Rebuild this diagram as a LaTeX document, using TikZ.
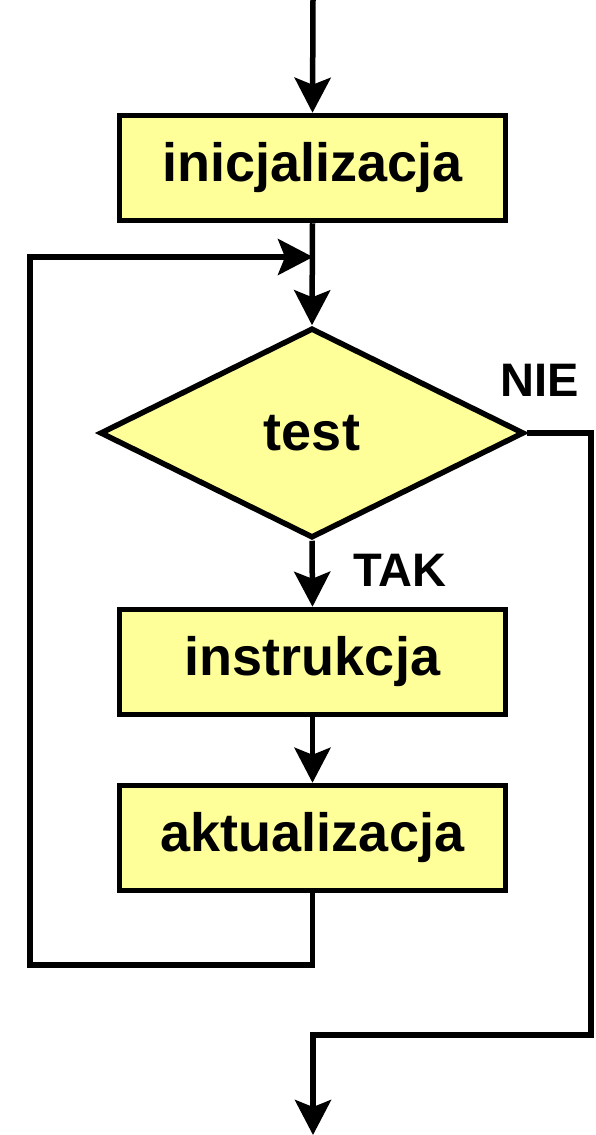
\documentclass[tikz,border=0pt]{standalone}
\usepackage{fontspec}
\setmainfont{Liberation Sans}
\usetikzlibrary{arrows.meta,shapes.geometric}
\definecolor{boxfill}{HTML}{FFFF99}
\tikzset{
  stepbox/.style={draw=black, line width=5.5pt, fill=boxfill, rectangle, minimum width=386pt, minimum height=105pt, inner sep=0pt, font=\fontsize{54}{60}\selectfont\bfseries},
  decision/.style={draw=black, line width=5.5pt, fill=boxfill, diamond, minimum width=424pt, minimum height=210pt, inner sep=0pt, font=\fontsize{54}{60}\selectfont\bfseries},
  conn/.style={line width=5.5pt, line join=miter},
  arr/.style={conn, -{Stealth[length=35pt, width=36pt, inset=7pt]}},
  lbl/.style={font=\fontsize{47}{52}\selectfont\bfseries, inner sep=0pt}
}
\begin{document}
\begin{tikzpicture}[x=1pt, y=-1pt]
\useasboundingbox (0,0) rectangle (595,1135);
\node[stepbox] (init) at (312.5,168) {inicjalizacja};
\node[decision] (test) at (312,433) {test};
\node[stepbox] (instr) at (312.5,662) {instrukcja};
\node[stepbox] (akt) at (312.5,838) {aktualizacja};
\node[lbl] (nie) at (540,380) {NIE};
\node[lbl] (tak) at (400,570) {TAK};
\coordinate (start) at (313,0);
\coordinate (join) at (313,257);
\coordinate (lbot) at (30,965);
\coordinate (rc) at (591,1035);
\coordinate (endp) at (313,1135);
\draw[arr] (start) -- (init.north);
\draw[arr] (init.south) -- (test.north);
\draw[arr] (test.south) -- (instr.north);
\draw[arr] (instr.south) -- (akt.north);
\draw[arr] (akt.south) |- (lbot) |- (join);
\draw[arr] (test.east) -| (rc) -| (endp);
\end{tikzpicture}
\end{document}
